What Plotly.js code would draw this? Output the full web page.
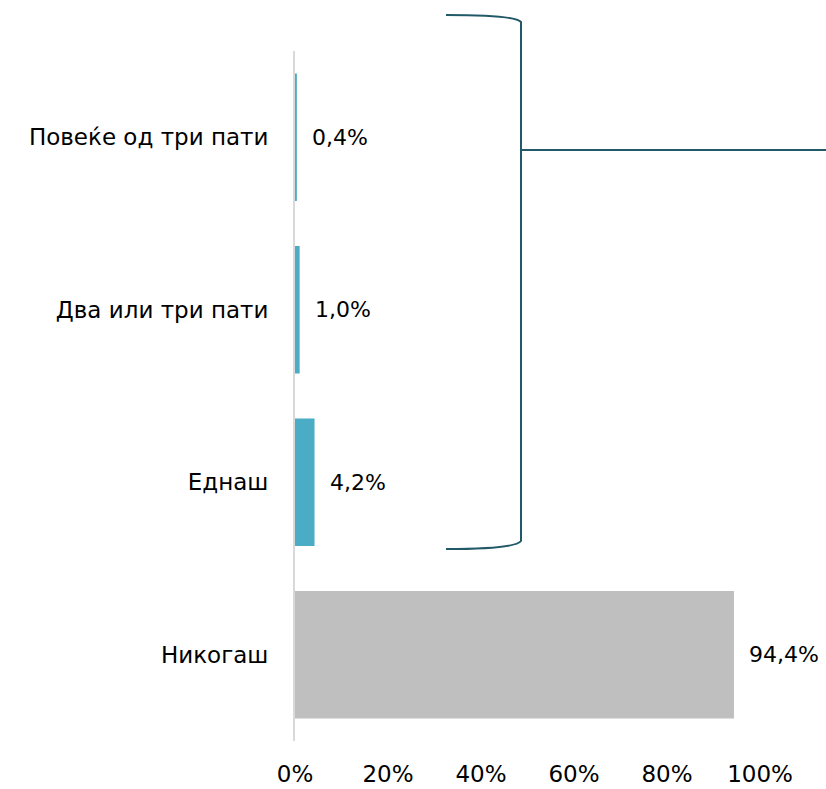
<!DOCTYPE html>
<html><head><meta charset="utf-8">
<script src="https://cdn.plot.ly/plotly-3.0.1.min.js"></script>
<style>html,body{margin:0;padding:0;background:#fff}#c{width:826px;height:789px}</style>
</head><body><div id="c"></div>
<script>
const categories = ["Повеќе од три пати", "Два или три пати", "Еднаш", "Никогаш"];
const values = [0.4, 1.0, 4.2, 94.4];
const barColors = ["#4bacc6", "#4bacc6", "#4bacc6", "#bfbfbf"];
const tickVals = [0, 20, 40, 60, 80, 100];
const tickText = ["0%", "20%", "40%", "60%", "80%", "100%"];
const fmt = v => v.toFixed(1).replace(".", ",") + "%";

const FONT = "'DejaVu Sans', sans-serif";
const FS = 23;
const trace = {
  type: "bar", orientation: "h",
  x: values, y: categories,
  marker: {color: barColors, line: {width: 0}},
  width: 0.74, hoverinfo: "none"
};
const annotations = values.map((v, i) => ({
  x: v, y: categories[i], xref: "x", yref: "y",
  text: fmt(v), showarrow: false, xanchor: "left", xshift: 13,
  font: {family: FONT, size: 22, color: "#000"}
}));
// bracket, drawn in paper coordinates (plot area spans 295..760 px horizontally, 51..741 px vertically)
const px = x => (x - 295) / 465, py = y => (741 - y) / 690;
const bracketPath = `M ${px(446)} ${py(15)} Q ${px(515)} ${py(15)} ${px(521)} ${py(22)} L ${px(521)} ${py(541)} Q ${px(515)} ${py(549)} ${px(446)} ${py(549)}`;
const shapes = [
  {type: "path", xref: "paper", yref: "paper", path: bracketPath, line: {color: "#215968", width: 2}},
  {type: "line", xref: "paper", yref: "paper", x0: px(521), x1: px(826), y0: py(150), y1: py(150), line: {color: "#215968", width: 2}}
];
const layout = {
  width: 826, height: 789,
  margin: {l: 295, r: 66, t: 51, b: 48},
  paper_bgcolor: "#fff", plot_bgcolor: "#fff",
  showlegend: false,
  font: {family: FONT, size: FS, color: "#000"},
  xaxis: {range: [0, 100], tickvals: tickVals, ticktext: tickText, showgrid: false, zeroline: false,
          showline: false, ticks: "", ticklabelstandoff: 17, tickfont: {family: FONT, size: FS, color: "#000"}, fixedrange: true},
  yaxis: {autorange: "reversed", showgrid: false, zeroline: false, showline: true, linecolor: "#d9d9d9", linewidth: 2,
          ticks: "", ticklabelstandoff: 20, tickfont: {family: FONT, size: FS, color: "#000"}, fixedrange: true},
  annotations: annotations,
  shapes: shapes,
  bargap: 0.26
};
Plotly.newPlot("c", [trace], layout, {displayModeBar: false, staticPlot: true});
</script></body></html>
